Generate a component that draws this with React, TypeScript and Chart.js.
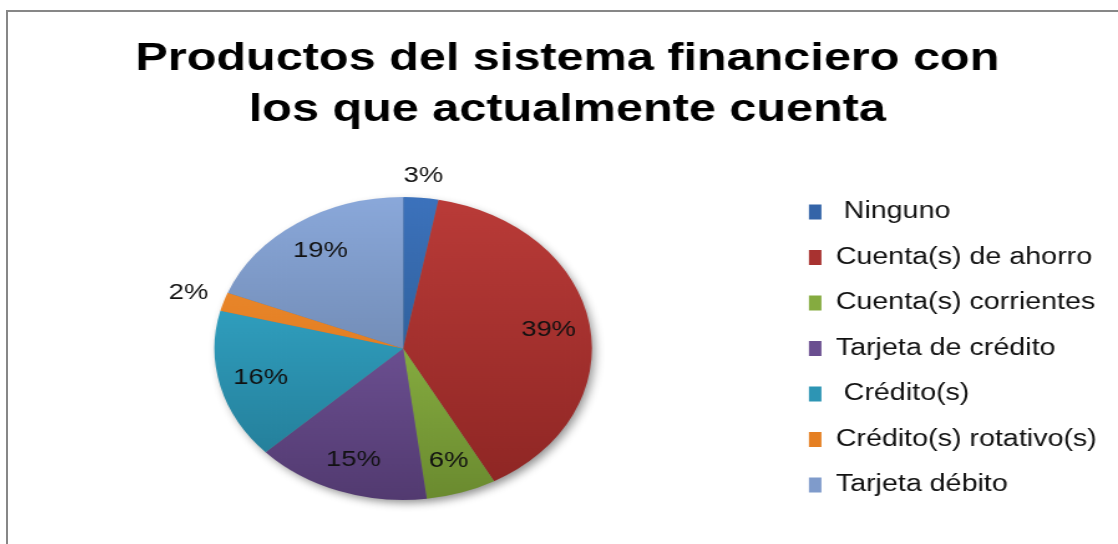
import React, { useEffect, useRef } from "react";
import { Chart, registerables, DoughnutController } from "chart.js";

Chart.register(...registerables);

const titleLines = ["Productos del sistema financiero con", "los que actualmente cuenta"];
const categories = [
  " Ninguno",
  "Cuenta(s) de ahorro",
  "Cuenta(s) corrientes",
  "Tarjeta de crédito",
  " Crédito(s)",
  "Crédito(s) rotativo(s)",
  "Tarjeta débito",
];
const values = [3, 39, 6, 15, 16, 2, 19];
const topColors = ["#3C72BC", "#BA3B38", "#A0CC50", "#8363B0", "#38B5D8", "#F29034", "#8AA8DA"];
const bottomColors = ["#24507F", "#8C2523", "#6A8A2F", "#523A70", "#217690", "#D46E12", "#5C7396"];
const legendColors = ["#3464A8", "#A83230", "#85AB40", "#6A4E90", "#2D95B4", "#E57F22", "#7F9BCB"];

const FONT = "'Liberation Sans', Arial, sans-serif";
const PIE_RADIUS = 151.5;
const CANVAS_W = 891;
const CANVAS_H = 532;
const SCALE_X = (1118 - 8) / CANVAS_W;

const shadowPlugin = {
  id: "pieShadow",
  beforeDatasetsDraw(chart: any) {
    const meta = chart.getDatasetMeta(0);
    const arc = meta.data[0];
    if (!arc) return;
    const { x, y, outerRadius } = arc.getProps(["x", "y", "outerRadius"], true);
    const ctx = chart.ctx;
    ctx.save();
    ctx.beginPath();
    ctx.arc(x, y, outerRadius - 1, 0, Math.PI * 2);
    ctx.fillStyle = "#777";
    ctx.shadowColor = "rgba(0,0,0,0.45)";
    ctx.shadowBlur = 8;
    ctx.shadowOffsetX = 3;
    ctx.shadowOffsetY = 4;
    ctx.fill();
    ctx.restore();
  },
};

const labelPlugin = {
  id: "pctLabels",
  afterDatasetsDraw(chart: any) {
    const meta = chart.getDatasetMeta(0);
    const ctx = chart.ctx;
    ctx.save();
    ctx.font = `22px ${FONT}`;
    ctx.fillStyle = "#111";
    ctx.textAlign = "center";
    ctx.textBaseline = "middle";
    meta.data.forEach((arc: any, i: number) => {
      const { x, y, startAngle, endAngle, outerRadius } = arc.getProps(
        ["x", "y", "startAngle", "endAngle", "outerRadius"],
        true
      );
      const mid = (startAngle + endAngle) / 2;
      const cos = Math.cos(mid);
      const sin = Math.sin(mid);
      const text = `${values[i]}%`;
      let r;
      if (values[i] >= 5) {
        r = outerRadius * 0.78;
      } else {
        const w = ctx.measureText(text).width;
        r = outerRadius + 12 + (Math.abs(cos) * w) / 2 + Math.abs(sin) * 8;
      }
      ctx.fillText(text, x + cos * r, y + sin * r);
    });
    ctx.restore();
  },
};

export default function App() {
  const canvasRef = useRef<HTMLCanvasElement | null>(null);

  useEffect(() => {
    if (!canvasRef.current) return;
    const defaultGen = (DoughnutController as any).overrides.plugins.legend.labels.generateLabels;
    const chart = new Chart(canvasRef.current, {
      type: "pie",
      data: {
        labels: categories,
        datasets: [
          {
            data: values,
            radius: PIE_RADIUS,
            borderWidth: 0,
            hoverOffset: 0,
            backgroundColor: (c: any) => {
              const i = c.dataIndex ?? 0;
              const a = c.chart.chartArea;
              if (!a) return legendColors[i];
              const cy = (a.top + a.bottom) / 2;
              const g = c.chart.ctx.createLinearGradient(0, cy - PIE_RADIUS, 0, cy + PIE_RADIUS);
              g.addColorStop(0, topColors[i]);
              g.addColorStop(1, bottomColors[i]);
              return g;
            },
          } as any,
        ],
      },
      options: {
        responsive: false,
        animation: false,
        devicePixelRatio: 1,
        layout: { padding: { left: 14, right: 7, top: 0, bottom: 0 } },
        plugins: {
          title: {
            display: true,
            text: titleLines,
            color: "#000",
            font: { family: FONT, size: 39, weight: "bold", lineHeight: 51.5 / 39 },
            padding: { top: 21.25, bottom: 16.75 },
          },
          legend: {
            position: "right",
            align: "center",
            fullSize: false,
            labels: {
              boxWidth: 10,
              boxHeight: 15,
              padding: 22.5,
              color: "#111",
              font: { family: FONT, size: 23 },
              generateLabels: (ch: any) =>
                defaultGen(ch).map((it: any, i: number) => ({
                  ...it,
                  fillStyle: legendColors[i],
                  strokeStyle: legendColors[i],
                  lineWidth: 0,
                })),
            },
          },
          tooltip: { enabled: false },
        },
      } as any,
      plugins: [shadowPlugin, labelPlugin],
    });
    return () => chart.destroy();
  }, []);

  return (
    <div
      style={{
        position: "fixed",
        left: 6,
        top: 10,
        width: 1112,
        height: 534,
        borderLeft: "2px solid #878787",
        borderTop: "2px solid #878787",
        overflow: "hidden",
        background: "#fff",
      }}
    >
      <div
        style={{
          width: CANVAS_W,
          height: CANVAS_H,
          transform: `scaleX(${SCALE_X})`,
          transformOrigin: "0 0",
        }}
      >
        <canvas ref={canvasRef} width={CANVAS_W} height={CANVAS_H} />
      </div>
    </div>
  );
}
